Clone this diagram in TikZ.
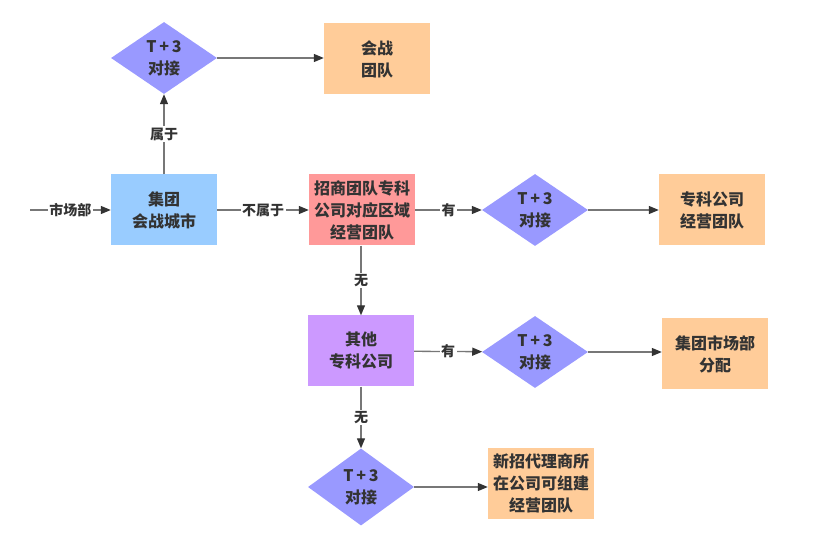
\documentclass[tikz,border=0pt]{standalone}
\usepackage{fontspec}
\setmainfont{Noto Sans CJK SC}
\usepackage{xcolor}
\usetikzlibrary{shapes.geometric,arrows.meta,positioning}

\definecolor{lineGray}{HTML}{777777}
\definecolor{tipGray}{HTML}{333333}
\definecolor{txtGray}{HTML}{333333}
\definecolor{cityBlue}{HTML}{99CCFF}
\definecolor{checkViolet}{HTML}{9999FF}
\definecolor{teamOrange}{HTML}{FFCC99}
\definecolor{bizPink}{HTML}{FF9999}
\definecolor{otherPurple}{HTML}{CC99FF}

\begin{document}
\begin{tikzpicture}[
    x=1pt, y=-1pt,
    box/.style={rectangle, minimum width=106pt, minimum height=71pt, inner sep=2pt, align=center, text=txtGray, font=\fontsize{16}{22}\selectfont\bfseries},
    city/.style={box, fill=cityBlue},
    team/.style={box, fill=teamOrange},
    biz/.style={box, fill=bizPink},
    other/.style={box, fill=otherPurple},
    check/.style={diamond, aspect=1.5, fill=checkViolet, minimum width=106pt, minimum height=72pt, inner sep=0pt, align=center, text=txtGray, font=\fontsize{16}{22}\selectfont\bfseries},
    arrow/.style={draw=lineGray, line width=1.3pt, -{Triangle[length=10pt,width=8pt,color=tipGray]}},
    lbl/.style={fill=white, inner sep=1.5pt, text=txtGray, font=\fontsize{14}{16}\selectfont\bfseries}
]
\useasboundingbox (0,0) rectangle (815,548);

% Main row
\coordinate (start) at (30,210);
\node[city] (city) at (164,210) {集团\\会战城市};
\node[biz] (biz) at (362,210) {招商团队专科\\公司对应区域\\经营团队};
\node[check] (checkB) at (535,210) {T\,+\,3\\对接};
\node[team] (teamB) at (712,210) {专科公司\\经营团队};

% Top row
\node[check] (checkA) at (164,58) {T\,+\,3\\对接};
\node[team] (teamA) at (377,59) {会战\\团队};

% Other companies
\node[other] (other) at (361,351) {其他\\专科公司};
\node[check] (checkC) at (535,352) {T\,+\,3\\对接};
\node[team] (teamC) at (715,354) {集团市场部\\分配};

% New agents
\node[check, minimum height=77pt] (checkD) at (361,487) {T\,+\,3\\对接};
\node[team] (teamD) at (541,483) {新招代理商所\\在公司可组建\\经营团队};

% Connections
\draw[arrow] (start) -- (city) node[lbl, midway] {市场部};
\draw[arrow] (city) -- (checkA) node[lbl, midway] {属于};
\draw[arrow] (checkA) -- (teamA.west |- checkA);
\draw[arrow] (city) -- (biz) node[lbl, midway] {不属于};
\draw[arrow] (biz) -- (checkB) node[lbl, midway] {有};
\draw[arrow] (checkB) -- (teamB);
\draw[arrow] (biz.south -| other) -- (other) node[lbl, midway] {无};
\draw[arrow] (other) -- (checkC) node[lbl, midway] {有};
\draw[arrow] (checkC) -- (teamC.west |- checkC);
\draw[arrow] (other) -- (checkD) node[lbl, midway] {无};
\draw[arrow] (checkD) -- (teamD.west |- checkD);

\end{tikzpicture}
\end{document}
